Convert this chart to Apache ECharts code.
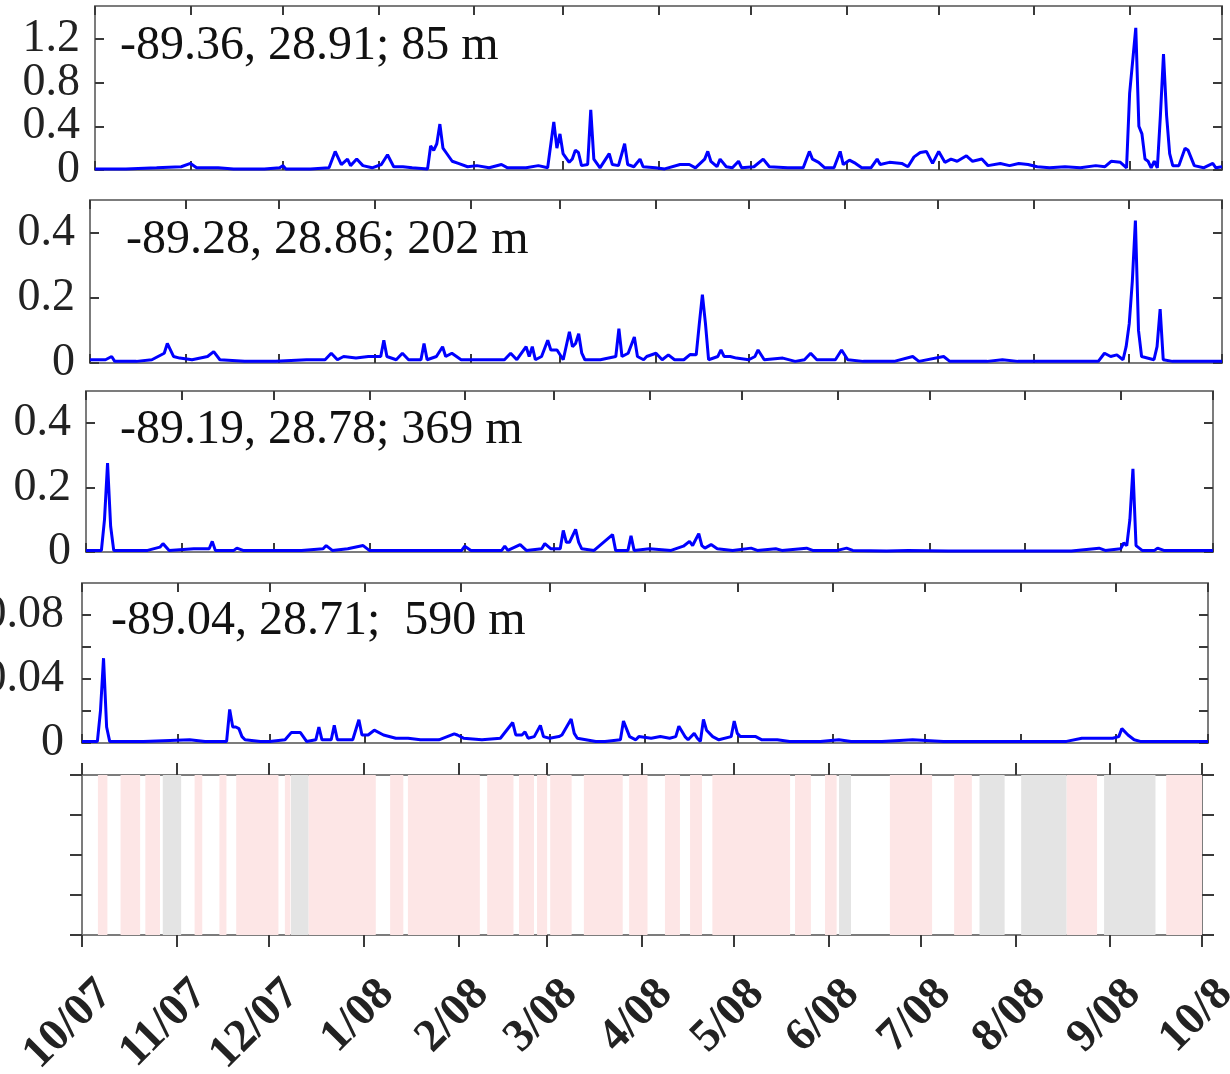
<!DOCTYPE html>
<html>
<head>
<meta charset="utf-8">
<script src="https://cdn.jsdelivr.net/npm/echarts@6/dist/echarts.min.js"></script>
<style>
  html, body { margin: 0; padding: 0; background: #fff; }
  #chart { width: 1230px; height: 1074px; }
</style>
</head>
<body>
<div id="chart"></div>
<script>
// x values are days since 2007-10-01
var monthStarts = [0, 31, 61, 92, 123, 152, 183, 213, 244, 274, 305, 336, 366];
var monthLabels = ['10/07', '11/07', '12/07', '1/08', '2/08', '3/08', '4/08', '5/08', '6/08', '7/08', '8/08', '9/08', '10/8'];

var stationNames = ['-89.36, 28.91; 85 m', '-89.28, 28.86; 202 m', '-89.19, 28.78; 369 m', '-89.04, 28.71;  590 m'];

var yTicks = [[0, 0.4, 0.8, 1.2], [0, 0.2, 0.4], [0, 0.2, 0.4], [0, 0.02, 0.04, 0.06, 0.08], [0, 1, 2, 3, 4]];
var yLabels = [[0, 0.4, 0.8, 1.2], [0, 0.2, 0.4], [0, 0.2, 0.4], [0, 0.04, 0.08], []];
var yMax = [1.5, 0.5, 0.5, 0.1, 4];

var series85 = [[0,0.01],[10,0.01],[20,0.02],[28,0.03],[31,0.06],[33,0.02],[40,0.02],[45,0.01],[55,0.01],[60,0.02],[61,0.04],[62,0.01],[70,0.01],[76,0.02],[78,0.17],[80,0.05],[82,0.1],[83,0.04],[85,0.1],[87,0.04],[90,0.02],[93,0.05],[95,0.14],[97,0.03],[100,0.03],[103,0.02],[108,0.01],[109,0.22],[110,0.18],[111,0.24],[112,0.42],[113,0.2],[114,0.16],[116,0.08],[118,0.06],[121,0.03],[124,0.04],[128,0.02],[132,0.05],[134,0.02],[140,0.02],[144,0.04],[147,0.02],[149,0.44],[150,0.2],[151,0.33],[152,0.15],[154,0.07],[155,0.1],[156,0.18],[157,0.16],[158,0.04],[160,0.05],[161,0.55],[162,0.1],[164,0.02],[167,0.15],[168,0.05],[170,0.04],[172,0.24],[173,0.05],[175,0.03],[177,0.1],[178,0.03],[182,0.02],[185,0.01],[190,0.05],[193,0.05],[195,0.02],[198,0.1],[199,0.17],[200,0.08],[202,0.03],[203,0.1],[205,0.03],[207,0.02],[209,0.08],[210,0.02],[214,0.03],[217,0.1],[219,0.03],[225,0.02],[230,0.02],[232,0.17],[233,0.1],[235,0.07],[237,0.02],[240,0.02],[242,0.17],[243,0.05],[245,0.09],[247,0.06],[249,0.02],[252,0.02],[254,0.1],[255,0.05],[258,0.07],[262,0.06],[264,0.03],[266,0.12],[268,0.16],[270,0.17],[272,0.06],[274,0.17],[276,0.07],[278,0.1],[280,0.08],[283,0.13],[285,0.08],[288,0.1],[290,0.04],[294,0.06],[297,0.04],[300,0.06],[303,0.05],[306,0.03],[310,0.02],[315,0.03],[320,0.02],[325,0.04],[328,0.03],[330,0.08],[333,0.07],[335,0.02],[336,0.7],[337,1.0],[338,1.3],[339,0.4],[340,0.33],[341,0.1],[342,0.08],[343,0.02],[344,0.08],[345,0.02],[346,0.5],[347,1.06],[348,0.5],[349,0.15],[350,0.04],[352,0.04],[354,0.2],[355,0.18],[357,0.04],[360,0.02],[363,0.06],[364,0.02],[366,0.03]];

var series202 = [[0,0.01],[5,0.01],[7,0.02],[8,0.005],[15,0.005],[20,0.01],[24,0.03],[25,0.06],[26,0.04],[27,0.02],[29,0.015],[33,0.01],[38,0.02],[40,0.035],[42,0.01],[50,0.005],[60,0.005],[70,0.01],[76,0.01],[78,0.03],[80,0.01],[82,0.02],[86,0.015],[90,0.02],[94,0.02],[95,0.07],[96,0.02],[99,0.01],[101,0.03],[103,0.01],[107,0.01],[108,0.06],[109,0.01],[112,0.02],[114,0.05],[115,0.02],[117,0.03],[120,0.01],[125,0.01],[130,0.01],[134,0.01],[136,0.03],[138,0.01],[141,0.05],[142,0.02],[143,0.05],[144,0.01],[146,0.02],[148,0.07],[149,0.04],[151,0.04],[153,0.01],[155,0.096],[156,0.05],[157,0.06],[158,0.09],[159,0.03],[160,0.01],[165,0.01],[170,0.02],[171,0.105],[172,0.02],[174,0.03],[176,0.08],[177,0.02],[179,0.01],[180,0.02],[183,0.03],[185,0.01],[187,0.025],[189,0.01],[192,0.01],[194,0.026],[196,0.025],[197,0.12],[198,0.21],[199,0.12],[200,0.01],[203,0.02],[204,0.04],[205,0.02],[207,0.02],[209,0.015],[213,0.01],[215,0.02],[216,0.04],[218,0.01],[224,0.015],[228,0.005],[231,0.01],[233,0.03],[235,0.01],[241,0.01],[243,0.04],[245,0.01],[250,0.005],[260,0.005],[266,0.02],[268,0.005],[276,0.02],[278,0.005],[290,0.005],[295,0.01],[300,0.005],[320,0.005],[326,0.005],[328,0.03],[330,0.02],[332,0.025],[334,0.01],[335,0.05],[336,0.12],[337,0.25],[338,0.437],[339,0.1],[340,0.02],[344,0.01],[345,0.05],[346,0.165],[347,0.01],[350,0.005],[366,0.005]];

var series369 = [[0,0.005],[5,0.005],[6,0.1],[7,0.276],[8,0.08],[9,0.005],[20,0.005],[24,0.015],[25,0.026],[27,0.005],[35,0.01],[40,0.01],[41,0.033],[42,0.005],[48,0.005],[49,0.012],[51,0.005],[60,0.005],[70,0.005],[77,0.01],[78,0.02],[80,0.005],[85,0.01],[90,0.02],[92,0.005],[100,0.005],[110,0.005],[122,0.005],[123,0.018],[125,0.005],[135,0.005],[136,0.018],[137,0.005],[141,0.023],[143,0.005],[148,0.01],[149,0.026],[151,0.01],[154,0.01],[155,0.067],[156,0.03],[157,0.03],[159,0.07],[160,0.03],[161,0.01],[165,0.005],[171,0.054],[172,0.005],[176,0.005],[177,0.05],[178,0.005],[183,0.01],[190,0.005],[194,0.018],[196,0.033],[197,0.02],[199,0.057],[200,0.02],[201,0.012],[203,0.023],[205,0.01],[210,0.005],[216,0.012],[218,0.005],[224,0.01],[226,0.005],[234,0.012],[236,0.005],[244,0.005],[247,0.012],[249,0.005],[260,0.003],[267,0.005],[280,0.003],[300,0.003],[320,0.003],[329,0.012],[331,0.005],[336,0.01],[337,0.028],[338,0.02],[339,0.1],[340,0.258],[341,0.02],[343,0.005],[347,0.005],[348,0.012],[350,0.005],[366,0.005]];

var series590 = [[0,0.001],[5,0.001],[6,0.02],[7,0.053],[8,0.01],[9,0.001],[20,0.001],[35,0.002],[40,0.001],[47,0.001],[48,0.021],[49,0.01],[50,0.01],[51,0.009],[52,0.004],[53,0.002],[58,0.001],[61,0.001],[66,0.002],[68,0.0065],[71,0.0065],[73,0.001],[76,0.002],[77,0.01],[78,0.002],[81,0.002],[82,0.011],[83,0.002],[88,0.002],[90,0.0145],[91,0.005],[93,0.005],[95,0.008],[98,0.005],[102,0.003],[106,0.003],[110,0.002],[116,0.002],[121,0.0057],[122,0.005],[124,0.003],[130,0.002],[136,0.003],[140,0.0128],[141,0.005],[143,0.005],[144,0.007],[145,0.003],[147,0.004],[149,0.011],[150,0.004],[152,0.003],[155,0.004],[156,0.005],[159,0.015],[160,0.006],[161,0.003],[167,0.001],[170,0.001],[175,0.002],[176,0.0137],[178,0.004],[180,0.002],[181,0.004],[185,0.003],[188,0.004],[191,0.003],[193,0.004],[194,0.0105],[196,0.004],[197,0.002],[199,0.006],[200,0.003],[201,0.001],[202,0.0147],[203,0.008],[205,0.004],[207,0.002],[211,0.004],[212,0.0137],[213,0.006],[214,0.004],[219,0.004],[221,0.002],[226,0.002],[230,0.001],[240,0.001],[246,0.002],[250,0.001],[260,0.001],[270,0.002],[280,0.001],[300,0.001],[320,0.001],[325,0.003],[330,0.003],[335,0.003],[337,0.004],[338,0.009],[340,0.005],[342,0.002],[344,0.001],[366,0.001]];

// shaded periods in the bottom panel, [start day, end day]
var pinkBands = [[5.2,8.3],[12.6,19],[20.7,25.5],[36.8,39.3],[44.9,47.2],[50.4,64.2],[66.3,68.1],[74,96],[100.7,105],[106.5,130],[132.4,141],[142.8,147.7],[148.7,152],[153,160],[164,176.7],[178.8,184.8],[190.5,195.4],[198.7,202.6],[206,231.4],[233,238.2],[242.8,246.6],[264,277.8],[285,290.8],[321.7,331.7],[354.3,366]];
var grayBands = [[26.4,32.4],[68.3,74],[247.4,251.3],[293.3,301.5],[306.9,321.7],[334,350.8]];

var allSeries = [series85, series202, series369, series590];

// panel boxes (px)
var boxes = [
    { left: 95, top: 6, width: 1127, height: 164 },
    { left: 90, top: 200, width: 1132, height: 163 },
    { left: 86, top: 391, width: 1127, height: 161 },
    { left: 82, top: 583, width: 1126, height: 160 },
    { left: 82, top: 775, width: 1120, height: 160 }
];
var titlePos = [[120, 22], [126, 216], [120, 406], [111, 597]];

var frameColor = '#7c7c7c';
var tickColor = '#3a3a3a';
var serif = 'Liberation Serif';

var grids = [], xAxes = [], yAxes = [], series = [], titles = [];

boxes.forEach(function (b, i) {
    var last = i === 4;
    grids.push({ left: b.left, top: b.top, width: b.width, height: b.height, outerBoundsMode: 'none', containLabel: false, show: true, backgroundColor: '#fff', borderWidth: 0 });
    ['bottom', 'top'].forEach(function (pos) {
        xAxes.push({
            gridIndex: i, type: 'value', position: pos, min: 0, max: 366,
            axisLine: { show: true, onZero: false, lineStyle: { color: frameColor, width: 2 } },
            axisTick: { show: true, inside: !last, length: last ? 12 : 9, customValues: monthStarts, lineStyle: { color: tickColor, width: 2 } },
            axisLabel: {
                show: last && pos === 'bottom', customValues: monthStarts, rotate: 45,
                showMinLabel: true, showMaxLabel: true,
                fontFamily: serif, fontSize: 46, fontWeight: 'bold', color: '#222',
                verticalAlign: 'top', margin: 29, padding: [10, 0, 0, 0],
                formatter: function (v) { return monthLabels[monthStarts.indexOf(Math.round(v))]; }
            },
            splitLine: { show: false }
        });
    });
    // frame axes: line + ticks only
    ['left', 'right'].forEach(function (pos) {
        yAxes.push({
            gridIndex: i, type: 'value', position: pos, min: 0, max: yMax[i],
            axisLine: { show: true, onZero: false, lineStyle: { color: frameColor, width: 2 } },
            axisTick: { show: true, inside: !last, length: last ? 12 : 9, customValues: yTicks[i], lineStyle: { color: tickColor, width: 2 } },
            axisLabel: { show: false },
            splitLine: { show: false }
        });
    });
    // label axes: alternate labels split over two axes so none get dropped as overlapping
    [0, 1].forEach(function (parity) {
        var vals = yLabels[i].filter(function (v, k) { return k % 2 === parity; });
        yAxes.push({
            gridIndex: i, type: 'value', position: 'left', offset: 0, min: 0, max: yMax[i],
            axisLine: { show: false, onZero: false },
            axisTick: { show: false },
            axisLabel: {
                show: vals.length > 0, customValues: vals.length ? vals : [0],
                fontFamily: serif, fontSize: 46, color: '#222', margin: i === 3 ? 18 : 15,
                formatter: function (v) { return String(v); }
            },
            splitLine: { show: false }
        });
    });
    if (!last) {
        series.push({
            type: 'line', xAxisIndex: 2 * i, yAxisIndex: 4 * i,
            data: allSeries[i], showSymbol: false, clip: false,
            lineStyle: { color: '#0000ff', width: 3 }
        });
        titles.push({
            text: stationNames[i], left: titlePos[i][0], top: titlePos[i][1], padding: 0,
            textStyle: { fontFamily: serif, fontSize: 48, fontWeight: 'normal', color: '#111' }
        });
    }
});

function bandSeries(bands, color) {
    return {
        type: 'custom', xAxisIndex: 8, yAxisIndex: 16, data: bands, z: 1,
        renderItem: function (params, api) {
            var p0 = api.coord([api.value(0), 4]);
            var p1 = api.coord([api.value(1), 0]);
            return { type: 'rect', shape: { x: p0[0], y: p0[1], width: p1[0] - p0[0], height: p1[1] - p0[1] }, style: { fill: color } };
        }
    };
}
series.push(bandSeries(pinkBands, '#fde6e6'));
series.push(bandSeries(grayBands, '#e4e4e4'));

var chart = echarts.init(document.getElementById('chart'));
chart.setOption({
    animation: false,
    backgroundColor: '#fff',
    textStyle: { fontFamily: serif },
    title: titles,
    grid: grids,
    xAxis: xAxes,
    yAxis: yAxes,
    series: series
});
</script>
</body>
</html>
